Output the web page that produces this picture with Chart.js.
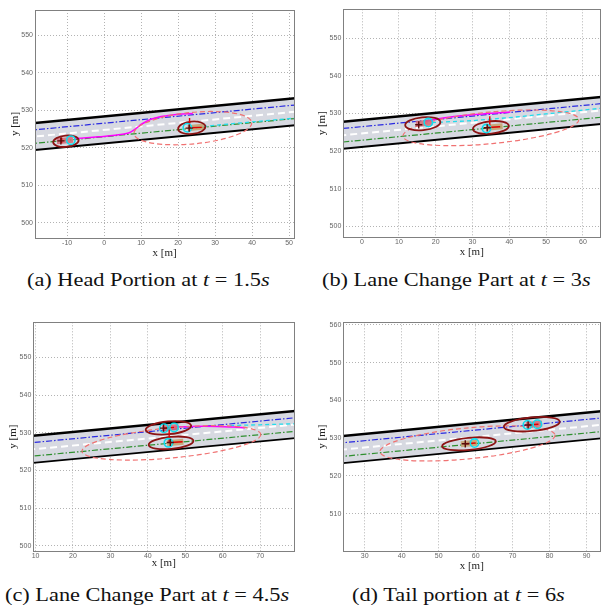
<!DOCTYPE html>
<html>
<head>
<title>Lane change snapshots</title>
<script src="https://cdn.jsdelivr.net/npm/chart.js@4.4.0/dist/chart.umd.min.js"></script>
<style>
body { margin:0; background:#fff; overflow:hidden; }
#fig { position:relative; width:605px; height:609px; overflow:hidden; }
.pane { position:absolute; }
.cap { position:absolute; font-family:"Liberation Serif","Times New Roman",serif; font-size:18px; line-height:18px;
  white-space:nowrap; transform-origin:0 50%; transform:scaleX(1.24); color:#111; }
</style>
</head>
<body>
<div id="fig">
<div class="pane" style="left:0;top:0;width:300px;height:262px"><canvas id="pa"></canvas></div>
<div class="pane" style="left:300px;top:0;width:306px;height:262px"><canvas id="pb"></canvas></div>
<div class="pane" style="left:0;top:305px;width:300px;height:268px"><canvas id="pc"></canvas></div>
<div class="pane" style="left:300px;top:305px;width:306px;height:268px"><canvas id="pd"></canvas></div>
<div class="cap" style="left:27px;top:271px">(a) Head Portion at <i>t</i> = 1.5<i>s</i></div>
<div class="cap" style="left:322px;top:271px">(b) Lane Change Part at <i>t</i> = 3<i>s</i></div>
<div class="cap" style="left:5px;top:586px">(c) Lane Change Part at <i>t</i> = 4.5<i>s</i></div>
<div class="cap" style="left:352px;top:586px">(d) Tail portion at <i>t</i> = 6<i>s</i></div>
</div>
<script>
// road, shared by all panels (metres)
var roadX = [-30, 100];
var roadUpper = [525.5, 537.7];
var laneLeft = [523.7, 535.9];     // blue centre line
var laneDivider = [521.9, 534.1];  // white dashed divider
var laneRight = [520.1, 532.3];    // green centre line
var roadLower = [518.3, 530.5];
var carLength = 4.4, carWidth = 1.6;

// (a) t = 1.5 s
var xLimA = [-18.7, 51.4], yLimA = [495.9, 556.7];
var xTicksA = [-10, 0, 10, 20, 30, 40, 50];
var yTicksA = [500, 510, 520, 530, 540, 550];
var pathXA = [-8, -1.4, 3, 6.6, 8.5, 10.2, 12.5, 14.6, 17, 20, 24];
var pathYA = [522.4, 522.9, 523.3, 523.9, 525.0, 526.3, 527.5, 528.1, 528.5, 528.9, 529.1];
var predXA = [23, 37, 52];
var predYA = [525.3, 526.6, 527.9];
var bodyXA = [-10.6, 24.8], bodyYA = [521.9, 525.4];
var ellXA = [-10.35, 23.7], ellYA = [521.7, 525.3];
var ellAA = [3.45, 3.7], ellBA = [1.5, 1.65];
var zoneA = [24, 525.2, 16, 4.2];
var wheelXA = [-9, 22.5], wheelYA = [522, 525.3];
var refXA = [-11.7, 23], refYA = [521.8, 525.2];
var headsA = [[-11.5, 521.2, -11.5, 522.7], [23.1, 525.2, 23.1, 527.9], [22.8, 525.3, 26.4, 525.4]];

// (b) t = 3 s
var xLimB = [-5.1, 64.7], yLimB = [497.1, 557.7];
var xTicksB = [0, 10, 20, 30, 40, 50, 60];
var yTicksB = [500, 510, 520, 530, 540, 550];
var pathXB = [17, 20, 25, 30, 35, 40.3];
var pathYB = [527.8, 528.5, 529.2, 529.7, 530.1, 530.4];
var predXB = [19, 30, 40, 50, 65];
var predYB = [527.6, 528.1, 528.9, 529.9, 531.4];
var bodyXB = [16.8, 36.0], bodyYB = [527.4, 526.4];
var ellXB = [16.5, 35], ellYB = [527.3, 526.3];
var ellAB = [4.8, 4.9], ellBB = [1.7, 1.65];
var zoneB = [35, 526.2, 24, 4.2];
var wheelXB = [18, 33.8], wheelYB = [527.6, 526];
var refXB = [15.4, 34], refYB = [527.0, 526.2];
var headsB = [[34.7, 526.2, 34.7, 529.3], [34, 526.3, 37.5, 526.5]];

// (c) t = 4.5 s
var xLimC = [9.4, 79.1], yLimC = [498.6, 559.3];
var xTicksC = [10, 20, 30, 40, 50, 60, 70];
var yTicksC = [500, 510, 520, 530, 540, 550];
var pathXC = [46.5, 50, 55, 60, 63, 66];
var pathYC = [531.5, 531.6, 531.7, 531.6, 531.5, 531.3];
var predXC = [62, 70, 80];
var predYC = [531.9, 532.1, 532.4];
var bodyXC = [46, 47.3], bodyYC = [531.3, 527.4];
var ellXC = [45.5, 46.2], ellYC = [531.3, 527.3];
var ellAC = [6.1, 6.0], ellBC = [1.7, 1.6];
var zoneC = [46.3, 527.3, 24, 4.0];
var wheelXC = [44.3, 47, 45.5], wheelYC = [531.2, 531.4, 527.3];
var refXC = [44.2, 46], refYC = [531.2, 527.4];
var headsC = [[45.7, 527.4, 45.7, 531.2], [46, 527.4, 49.3, 527.6], [44.3, 531.2, 47, 531.4]];

// (d) t = 6 s
var xLimD = [24.2, 93.7], yLimD = [500.1, 560.7];
var xTicksD = [30, 40, 50, 60, 70, 80, 90];
var yTicksD = [510, 520, 530, 540, 550, 560];
var bodyXD = [75.8, 58.2], bodyYD = [533.7, 528.6];
var ellXD = [75.2, 58.2], ellYD = [533.7, 528.5];
var ellAD = [7.6, 7.3], ellBD = [1.8, 1.6];
var zoneD = [57.8, 528.6, 23.8, 4.1];
var wheelXD = [74, 76.7, 59.7], wheelYD = [533.5, 533.7, 528.7];
var refXD = [74.2, 57.2], refYD = [533.5, 528.5];
var headsD = [[57.2, 528.5, 60, 528.7], [74.2, 533.5, 77, 533.7]];

function xy(xs, ys) {
  return xs.map(function (x, i) { return {x: x, y: ys[i]}; });
}

function lineSet(xs, ys, color, width, dash, order) {
  return {data: xy(xs, ys), showLine: true, borderColor: color, borderWidth: width, borderDash: dash,
    pointRadius: 0, fill: false, order: order, clip: 0, tension: 0};
}

// box round the plot area
var frame = {
  id: 'frame',
  afterDatasetsDraw: function (chart) {
    var ctx = chart.ctx, a = chart.chartArea;
    ctx.save();
    ctx.strokeStyle = '#808080';
    ctx.lineWidth = 1;
    ctx.strokeRect(Math.round(a.left) + 0.5, Math.round(a.top) + 0.5, Math.round(a.width), Math.round(a.height));
    ctx.restore();
  }
};

// vehicle bodies, uncertainty ellipses and interaction zone
var vehicleLayer = {
  id: 'vehicleLayer',
  afterDatasetDraw: function (chart, args) {
    var v = chart.data.datasets[args.index].vehicles;
    if (!v) return;
    var ctx = chart.ctx, a = chart.chartArea, x = chart.scales.x, y = chart.scales.y;
    var kx = Math.abs(x.getPixelForValue(1) - x.getPixelForValue(0));
    var ky = Math.abs(y.getPixelForValue(1) - y.getPixelForValue(0));
    var ang = Math.atan2(y.getPixelForValue(roadLower[1]) - y.getPixelForValue(roadLower[0]),
      x.getPixelForValue(roadX[1]) - x.getPixelForValue(roadX[0]));
    ctx.save();
    ctx.beginPath();
    ctx.rect(a.left, a.top, a.width, a.height);
    ctx.clip();

    ctx.setLineDash([5, 3]);
    ctx.strokeStyle = '#f07272';
    ctx.lineWidth = 1.2;
    ctx.beginPath();
    ctx.ellipse(x.getPixelForValue(v.zone[0]), y.getPixelForValue(v.zone[1]), v.zone[2] * kx, v.zone[3] * ky, ang, 0, 2 * Math.PI);
    ctx.stroke();
    ctx.setLineDash([]);

    v.bodyX.forEach(function (bx, i) {
      ctx.save();
      ctx.translate(x.getPixelForValue(bx), y.getPixelForValue(v.bodyY[i]));
      ctx.rotate(ang);
      ctx.fillStyle = i === 0 ? 'rgba(214,104,116,0.85)' : 'rgba(196,160,104,0.85)';
      ctx.fillRect(-carLength * kx / 2, -carWidth * ky / 2, carLength * kx, carWidth * ky);
      ctx.restore();
    });

    ctx.strokeStyle = '#8c1414';
    ctx.lineWidth = 1.8;
    v.ellX.forEach(function (ex, i) {
      ctx.beginPath();
      ctx.ellipse(x.getPixelForValue(ex), y.getPixelForValue(v.ellY[i]), v.ellA[i] * kx, v.ellB[i] * ky, ang, 0, 2 * Math.PI);
      ctx.stroke();
    });
    ctx.restore();
  }
};

function panelOptions(p, lay) {
  var tickFont = {family: 'Liberation Sans', size: 7};
  var titleFont = {family: 'Liberation Serif', size: 11};
  var grid = {color: '#a0a0a0', lineWidth: 0.8, drawTicks: false, borderDash: [1, 2]};
  return {
    responsive: true, maintainAspectRatio: false, animation: false, events: [],
    layout: {padding: {top: lay.top, right: lay.right, left: 0, bottom: 0}},
    plugins: {legend: {display: false}, tooltip: {enabled: false}},
    scales: {
      x: {
        type: 'linear', min: p.xLim[0], max: p.xLim[1],
        afterBuildTicks: function (s) { s.ticks = p.xTicks.map(function (v) { return {value: v}; }); },
        afterFit: function (s) { s.height = lay.xH; },
        grid: grid,
        border: {display: false, dash: [1, 2]},
        ticks: {font: tickFont, color: '#666', padding: 1, maxRotation: 0, autoSkip: false},
        title: {display: true, text: 'x [m]', font: titleFont, color: '#222', padding: {top: 0, bottom: lay.xT}}
      },
      y: {
        type: 'linear', min: p.yLim[0], max: p.yLim[1],
        afterBuildTicks: function (s) { s.ticks = p.yTicks.map(function (v) { return {value: v}; }); },
        afterFit: function (s) { s.width = lay.yW; },
        grid: grid,
        border: {display: false, dash: [1, 2]},
        ticks: {font: tickFont, color: '#666', padding: 2, autoSkip: false},
        title: {display: true, text: 'y [m]', font: titleFont, color: '#222', padding: {top: lay.yT, bottom: 0}}
      }
    }
  };
}

function buildPanel(id, p, lay) {
  var sets = [];
  var upper = lineSet(roadX, roadUpper, '#000', 2.6, [], 20);
  upper.fill = {target: 1};
  upper.backgroundColor = '#d7d9e1';
  sets.push(upper);
  sets.push(lineSet(roadX, roadLower, '#000', 1.8, [], 19));
  sets.push(lineSet(roadX, laneRight, '#2f8f2f', 1.2, [6, 2, 1.5, 2], 18));
  sets.push(lineSet(roadX, laneDivider, '#ffffff', 2, [7, 4], 17));
  sets.push(lineSet(roadX, laneLeft, '#2a2ae0', 1.2, [6, 2, 1.5, 2], 16));
  if (p.predX) sets.push(lineSet(p.predX, p.predY, '#22dcec', 1.3, [4, 3], 15));
  if (p.pathX) {
    var m = lineSet(p.pathX, p.pathY, '#ff00ff', 1.5, [], 14);
    m.tension = 0.4;
    sets.push(m);
  }
  sets.push({data: [], vehicles: p, order: 10, pointRadius: 0, showLine: false});
  p.heads.forEach(function (h) {
    sets.push(lineSet([h[0], h[2]], [h[1], h[3]], '#e00000', 1.4, [], 3));
  });
  sets.push({data: xy(p.wheelX, p.wheelY), showLine: false, pointStyle: 'circle', pointRadius: 4.2,
    pointBorderColor: '#10dcec', pointBackgroundColor: 'rgba(0,0,0,0)', pointBorderWidth: 1.6, order: 2, clip: 0});
  sets.push({data: xy(p.refX, p.refY), showLine: false, pointStyle: 'cross', pointRadius: 3.6,
    pointBorderColor: '#5a0c0c', pointBorderWidth: 1.4, order: 1, clip: 0});

  new Chart(document.getElementById(id), {
    type: 'line',
    data: {datasets: sets},
    options: panelOptions(p, lay),
    plugins: [vehicleLayer, frame]
  });
}

buildPanel('pa', {xLim: xLimA, yLim: yLimA, xTicks: xTicksA, yTicks: yTicksA, pathX: pathXA, pathY: pathYA,
  predX: predXA, predY: predYA, bodyX: bodyXA, bodyY: bodyYA, ellX: ellXA, ellY: ellYA, ellA: ellAA, ellB: ellBA,
  zone: zoneA, wheelX: wheelXA, wheelY: wheelYA, refX: refXA, refY: refYA, heads: headsA},
  {yW: 35, xH: 24, top: 10, right: 2, yT: 8.4, xT: 2.4});
buildPanel('pb', {xLim: xLimB, yLim: yLimB, xTicks: xTicksB, yTicks: yTicksB, pathX: pathXB, pathY: pathYB,
  predX: predXB, predY: predYB, bodyX: bodyXB, bodyY: bodyYB, ellX: ellXB, ellY: ellYB, ellA: ellAB, ellB: ellBB,
  zone: zoneB, wheelX: wheelXB, wheelY: wheelYB, refX: refXB, refY: refYB, heads: headsB},
  {yW: 43.3, xH: 24.7, top: 9.3, right: 0, yT: 15.1, xT: 3.7});
buildPanel('pc', {xLim: xLimC, yLim: yLimC, xTicks: xTicksC, yTicks: yTicksC, pathX: pathXC, pathY: pathYC,
  predX: predXC, predY: predYC, bodyX: bodyXC, bodyY: bodyYC, ellX: ellXC, ellY: ellYC, ellA: ellAC, ellB: ellBC,
  zone: zoneC, wheelX: wheelXC, wheelY: wheelYC, refX: refXC, refY: refYC, heads: headsC},
  {yW: 33.3, xH: 22, top: 17.3, right: 3.3, yT: 6.7, xT: 3.1});
buildPanel('pd', {xLim: xLimD, yLim: yLimD, xTicks: xTicksD, yTicks: yTicksD,
  bodyX: bodyXD, bodyY: bodyYD, ellX: ellXD, ellY: ellYD, ellA: ellAD, ellB: ellBD,
  zone: zoneD, wheelX: wheelXD, wheelY: wheelYD, refX: refXD, refY: refYD, heads: headsD},
  {yW: 43.3, xH: 22, top: 17.3, right: 0, yT: 15.1, xT: 0.4});
</script>
</body>
</html>
